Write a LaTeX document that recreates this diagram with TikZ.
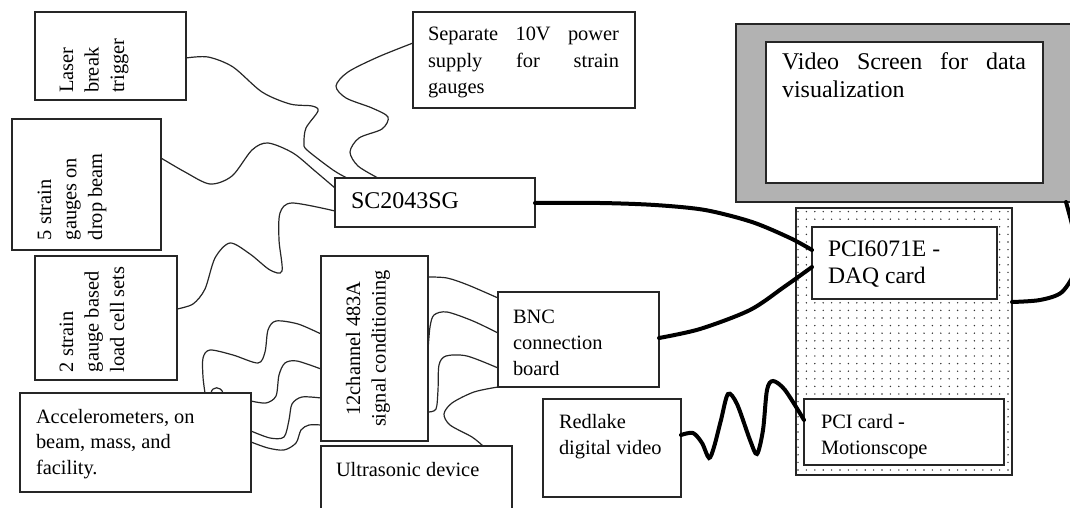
\documentclass[tikz,border=0pt]{standalone}
\usepackage{fontspec}
\setmainfont{Liberation Serif}
\usetikzlibrary{fit,patterns}
\pgfdeclarepatternformonly{pcdots}{\pgfqpoint{-0.5pt}{-0.5pt}}{\pgfqpoint{0.5pt}{0.5pt}}{\pgfqpoint{4.2pt}{3.8pt}}{\pgfpathcircle{\pgfqpoint{0pt}{0pt}}{0.4pt}\pgfusepath{fill}}
\begin{document}
\begin{tikzpicture}[x=0.5pt,y=-0.5pt,
  box/.style={draw=black!85,line width=0.65pt,inner sep=0pt,outer sep=0pt,fill=white},
  txt/.style={inner sep=0pt,outer sep=0pt,anchor=base west,font=\fontsize{10.2}{12.75}\selectfont},
  wire/.style={line width=0.6pt,draw=black!85,smooth},
  cable/.style={line width=2pt,draw=black,smooth,line cap=round}]
\useasboundingbox (0,0) rectangle (1070,508);
\clip (0,0) rectangle (1070,508);
% boxes
\node[box,fit={(35,12)(186,100)}] (laser) {};
\node[box,fit={(12,119)(161,250)}] (five) {};
\node[box,fit={(35,256)(177,380)}] (two) {};
\node[box,fit={(413,12)(635,108)}] (power) {};
\node[box,fit={(335,178)(535,227)}] (sc) {};
\node[box,fit={(321,256)(428,441)}] (chan) {};
\node[box,fit={(20,393)(251,492)}] (acc) {};
\node[box,fit={(321,446)(512,540)}] (ultra) {};
\node[box,fit={(498,292)(659,387)}] (bnc) {};
\node[box,fit={(543,399)(681,497)}] (red) {};
\node[box,fill=black!30,fit={(736,24)(1090,202)}] (screen) {};
\node[box,fit={(766,42)(1043,183)}] (screenin) {};
\node[box,fill=none,pattern=pcdots,pattern color=black!80,fit={(796,208)(1012,475)}] (pc) {};
\node[box,fit={(812,227)(997,299)}] (daq) {};
\node[box,fit={(804,399)(1004,465)}] (motion) {};
% texts
\node[txt,rotate=90] (laserT) at (73,93) {\parbox[t]{60pt}{\raggedright Laser\\break\\trigger}};
\node[txt,rotate=90] (fiveT) at (51,240) {\parbox[t]{60pt}{\raggedright 5 strain\\gauges on\\drop beam}};
\node[txt,rotate=90] (twoT) at (73,372) {\parbox[t]{60pt}{\raggedright 2 strain\\gauge based\\load cell sets}};
\node[txt,rotate=90,anchor=base] (chanT) at (360,348.5) {\parbox[t]{100pt}{\centering 12channel 483A\\signal conditioning}};
\node[txt,font=\fontsize{10.2}{13.25}\selectfont] (powerT) at (428,41) {\parbox[t]{95.5pt}{Separate 10V power\linebreak supply for strain\linebreak gauges}};
\node[txt,font=\fontsize{12}{14}\selectfont] (scT) at (351,208) {SC2043SG};
\node[txt] (accT) at (36,423) {\parbox[t]{110pt}{\raggedright Accelerometers, on\\beam, mass, and\\facility.}};
\node[txt] (ultraT) at (336,476) {Ultrasonic device};
\node[txt,font=\fontsize{10.2}{13}\selectfont] (bncT) at (513,323) {\parbox[t]{70pt}{\raggedright BNC\\connection\\board}};
\node[txt,font=\fontsize{10.2}{13}\selectfont] (redT) at (559,428) {\parbox[t]{70pt}{\raggedright Redlake\\digital video}};
\node[txt,font=\fontsize{12}{13.5}\selectfont] (screenT) at (782,70) {\parbox[t]{122pt}{Video Screen for data\linebreak visualization}};
\node[txt,font=\fontsize{11.8}{13.5}\selectfont] (daqT) at (828,256) {\parbox[t]{80pt}{\raggedright PCI6071E -\\DAQ card}};
\node[txt,font=\fontsize{10.2}{13}\selectfont] (motionT) at (821,428) {\parbox[t]{80pt}{\raggedright PCI card -\\Motionscope}};
% thin wires
\draw[wire] plot coordinates {(laser.east |- 0,58) (208,57) (233,67) (262,92) (290,104) (312,106) (318,111) (306,128) (304,143) (307,150) (333,170) (sc.north -| 347,0)};
\draw[wire] plot coordinates {(five.east |- 0,158) (185,172) (210,184) (232,176) (252,150) (268,143) (293,153) (315,171) (sc.west |- 0,188)};
\draw[wire] plot coordinates {(power.west |- 0,43) (378,57) (348,72) (336,86) (346,98) (372,108) (388,117) (382,129) (359,138) (350,152) (358,166) (sc.north -| 378,0)};
\draw[wire] plot coordinates {(two.east |- 0,309) (193,304) (205,289) (215,258) (230,243) (250,254) (270,270) (282,271) (279,240) (280,213) (292,203) (sc.west |- 0,211)};
\draw[wire] plot coordinates {(acc.north -| 205,0) (203,377) (203,358) (210,350) (233,355) (258,363) (265,352) (268,330) (276,321) (298,324) (chan.west |- 0,334)};
\draw[wire] (acc.north -| 211,0) .. controls (212,386) and (221,386) .. (acc.north -| 223,0);
\draw[wire] plot coordinates {(acc.east |- 0,401) (266,403) (276,396) (279,375) (285,363) (297,361) (chan.west |- 0,369)};
\draw[wire] plot coordinates {(acc.east |- 0,431) (270,438) (284,437) (289,420) (292,404) (302,397) (chan.west |- 0,398)};
\draw[wire] plot coordinates {(acc.east |- 0,442) (268,448) (284,450) (296,443) (301,430) (309,425) (chan.west |- 0,425)};
\draw[wire] plot coordinates {(chan.east |- 0,277) (447,278) (468,285) (bnc.west |- 0,298)};
\draw[wire] plot coordinates {(chan.east |- 0,350) (430,327) (434,315) (447,312) (473,321) (bnc.west |- 0,333)};
\draw[wire] plot coordinates {(chan.east |- 0,412) (436,409) (438,390) (439,365) (446,356) (467,356) (bnc.west |- 0,368)};
\draw[wire] plot coordinates {(bnc.south west) (474,392) (452,403) (444,414) (450,425) (472,437) (ultra.north -| 483,0)};
% thick cables
\draw[cable] plot coordinates {(sc.east |- 0,203) (600,203) (655,205) (705,210) (752,222) (790,238) (daq.west |- 0,250)};
\draw[cable] plot coordinates {(bnc.east |- 0,338) (700,329) (750,310) (784,287) (daq.west |- 0,267)};
\draw[cable] plot coordinates {(pc.east |- 0,302) (1040,300) (1062,292) (1076,268) (1075,238) (screen.south -| 1066,0)};
\draw[cable] plot coordinates {(red.east |- 0,435) (693,433) (702,443) (709,458) (714,447) (721,420) (728,394) (737,404) (750,440) (757,454) (763,430) (767,390) (773,381) (785,390) (motion.west |- 0,420)};
\end{tikzpicture}
\end{document}
